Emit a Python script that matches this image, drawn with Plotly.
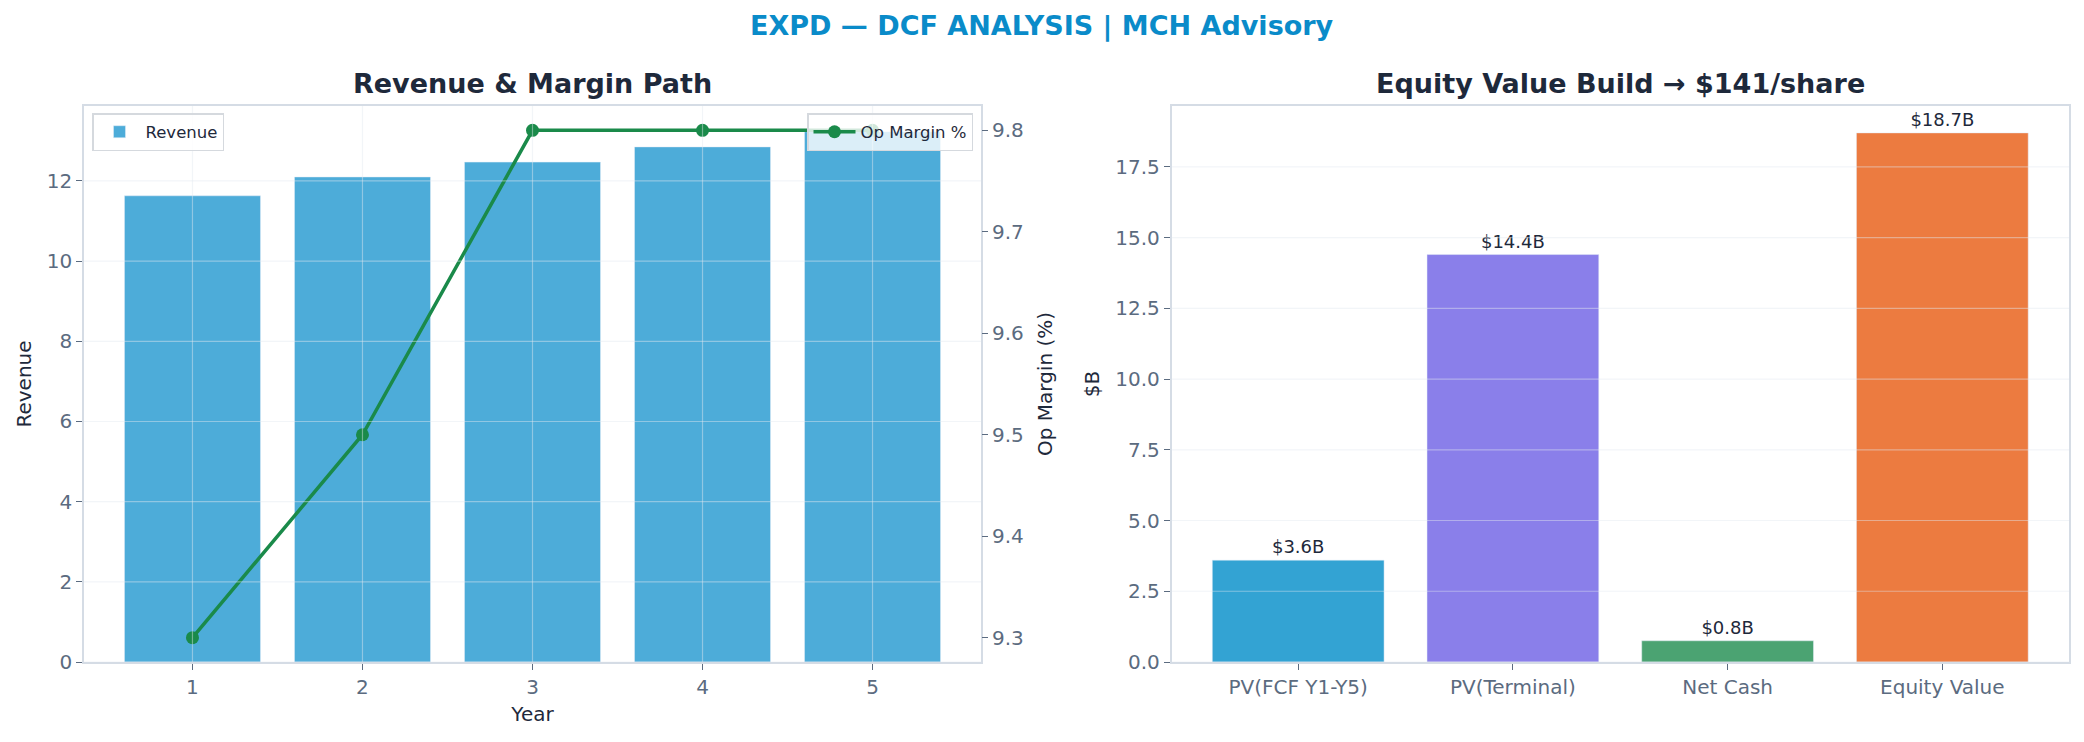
import plotly.graph_objects as go
from plotly.subplots import make_subplots

years = [1, 2, 3, 4, 5]
revenue = [11.63, 12.10, 12.47, 12.85, 13.23]
op_margin = [9.3, 9.5, 9.8, 9.8, 9.8]

build_labels = ['PV(FCF Y1-Y5)', 'PV(Terminal)', 'Net Cash', 'Equity Value']
build_values = [3.6, 14.4, 0.75, 18.7]
build_text = ['$3.6B', '$14.4B', '$0.8B', '$18.7B']
build_colors = ['#33A3D3', '#8A7FEA', '#4BA372', '#EC7B40']

rev_ticks = [0, 2, 4, 6, 8, 10, 12]
margin_ticks = [9.3, 9.4, 9.5, 9.6, 9.7, 9.8]
build_ticks = [0, 2.5, 5.0, 7.5, 10.0, 12.5, 15.0, 17.5]

W, H = 2084, 742


def px(x):
    return x / W


def py(y):
    return 1 - y / H


font = 'DejaVu Sans'
dark = '#1E293B'
tick_col = '#5B6B80'
spine = '#D5DCE5'
grid = 'rgba(226,232,240,0.45)'

fig = make_subplots(rows=1, cols=2, specs=[[{'secondary_y': True}, {}]])

fig.add_trace(go.Bar(x=years, y=revenue, name='Revenue', marker_color='#4DACD9',
                     width=0.8, legend='legend'), row=1, col=1, secondary_y=False)
fig.add_trace(go.Scatter(x=years, y=op_margin, name='Op Margin %', mode='lines+markers',
                         line=dict(color='#1A8A4A', width=3.5), marker=dict(size=13, color='#1A8A4A'),
                         legend='legend2', cliponaxis=False),
              row=1, col=1, secondary_y=True)

fig.add_trace(go.Bar(x=build_labels, y=build_values, marker_color=build_colors, width=0.8,
                     text=build_text, textposition='outside', cliponaxis=False,
                     textfont=dict(size=18, color=dark, family=font), showlegend=False),
              row=1, col=2)

axis_common = dict(showline=True, linecolor=spine, linewidth=1.5, mirror=True, ticks='outside',
                   ticklen=6, tickcolor=tick_col, tickfont=dict(size=20, color=tick_col, family=font),
                   showgrid=False, zeroline=False, automargin=False)
title_font = dict(size=20, color=dark, family=font)
plot_y = [py(662), py(106)]
legend_style = dict(yanchor='top', bgcolor='rgba(255,255,255,0.8)', bordercolor='#D5D9DE',
                    borderwidth=1.5, itemwidth=42, font=dict(size=16.5, color=dark))

fig.update_layout(
    width=W, height=H,
    paper_bgcolor='white', plot_bgcolor='white',
    margin=dict(l=0, r=0, t=0, b=0),
    font=dict(family=font, color=dark),
    xaxis=dict(axis_common, domain=[px(84), px(981)], range=[0.362, 5.638], tickvals=years,
               title=dict(text='Year', font=title_font, standoff=9)),
    yaxis=dict(axis_common, range=[0, 13.87], tickvals=rev_ticks, domain=plot_y,
               title=dict(text='Revenue', font=title_font, standoff=10)),
    yaxis2=dict(axis_common, range=[9.276, 9.824], tickvals=margin_ticks, mirror=False,
                showline=False, title=dict(text='Op Margin (%)', font=title_font, standoff=15)),
    xaxis2=dict(axis_common, domain=[px(1171.5), px(2069)], range=[-0.59, 3.59]),
    yaxis3=dict(axis_common, range=[0, 19.65], tickvals=build_ticks, tickformat='.1f', domain=plot_y,
                title=dict(text='$B', font=title_font, standoff=10)),
    legend=dict(legend_style, x=px(92), y=py(113), xanchor='left'),
    legend2=dict(legend_style, x=px(973), y=py(113), xanchor='right'),
    annotations=[
        dict(text='<b>EXPD — DCF ANALYSIS | MCH Advisory</b>', x=px(1042), y=py(26), xref='paper',
             yref='paper', xanchor='center', yanchor='middle', showarrow=False,
             font=dict(size=27, color='#0A8BC9', family=font)),
        dict(text='<b>Revenue & Margin Path</b>', x=px(532.5), y=py(84), xref='paper', yref='paper',
             xanchor='center', yanchor='middle', showarrow=False,
             font=dict(size=27, color=dark, family=font)),
        dict(text='<b>Equity Value Build → $141/share</b>', x=px(1620.5), y=py(84), xref='paper',
             yref='paper', xanchor='center', yanchor='middle', showarrow=False,
             font=dict(size=27, color=dark, family=font)),
    ],
)

# grid drawn above the bars, like the original
shapes = []
for v in rev_ticks:
    shapes.append(dict(type='line', xref='x domain', yref='y', x0=0, x1=1, y0=v, y1=v,
                       line=dict(color=grid, width=1.2), layer='above'))
for v in years:
    shapes.append(dict(type='line', xref='x', yref='y domain', x0=v, x1=v, y0=0, y1=1,
                       line=dict(color=grid, width=1.2), layer='above'))
for v in build_ticks:
    shapes.append(dict(type='line', xref='x2 domain', yref='y3', x0=0, x1=1, y0=v, y1=v,
                       line=dict(color=grid, width=1.2), layer='above'))
fig.update_layout(shapes=shapes)

# drop the default page margin so the figure sits at the window's corner
fig.write_html("out.html", config={'displayModeBar': False},
               post_script="document.body.style.margin = '0';")
